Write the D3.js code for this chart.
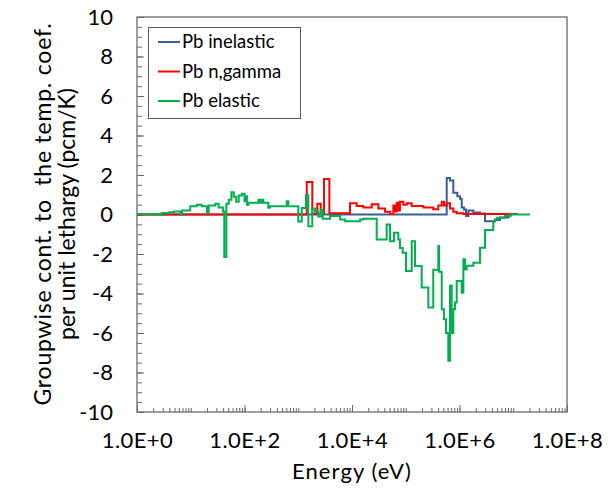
<!DOCTYPE html>
<html>
<head>
<meta charset="utf-8">
<script src="https://cdn.jsdelivr.net/npm/d3@7/dist/d3.min.js"></script>
<style>
  html, body { margin: 0; padding: 0; background: #fff; }
  svg { display: block; }
  text { font-family: Lato, "Open Sans", sans-serif; fill: #000; }
</style>
</head>
<body>
<svg id="chart" width="612" height="490"></svg>
<script>
// Group-wise contributions to the temperature coefficient (pcm/K per unit lethargy).
// Each series: lower group-boundary energies (eV), values, and the upper edge of the last group.
const inelasticE = [1, 5.78e5, 6.66e5, 7.67e5, 9.1e5, 1.02e6, 1.10e6, 1.21e6, 1.32e6, 1.46e6, 1.81e6, 2.41e6, 2.98e6, 4.57e6, 5.66e6, 8.09e6];
const inelasticV = [0, 1.85, 1.72, 1.1, 0.92, 0.8, 0.35, 0.25, -0.07, 0.2, 0.1, 0.05, -0.34, -0.28, -0.15, -0.05];
const inelasticEnd = 9.5e6;

const ngammaE = [1, 1440, 1825, 2260, 2620, 3010, 3790, 9180, 12200, 16200, 23300, 30900, 41100, 51000, 58700, 64000, 67900, 74000, 78000, 90000, 104000, 129000, 212000, 325000, 403000, 467000, 515000, 578000, 666000, 767000, 887000, 1.18e6];
const ngammaV = [0, 1.65, 0.03, 0.55, 0.03, 1.8, 0.06, 0.57, 0.43, 0.36, 0.52, 0.3, 0.14, 0.03, 0.45, 0.15, 0.6, 0.2, 0.65, 0.5, 0.57, 0.43, 0.36, 0.26, 0.45, 0.65, 0.45, 0.57, 0.31, 0.14, 0.06, 0.02];
const ngammaEnd = 1.22e7;

const elasticE = [1, 2.5, 2.9, 3.9, 4.9, 6.4, 6.9, 9.8, 13, 16, 20, 21.6, 28.6, 33, 40, 42, 46, 51, 57, 63, 70, 78, 90, 100, 106, 111, 118, 181, 194, 209, 224, 277, 298, 610, 653, 1000, 1160, 1390, 1540, 1825, 2050, 2360, 2620, 2850, 3900, 6000, 7400, 14100, 16200, 28800, 44200, 51000, 60400, 72600, 78000, 87700, 101000, 129000, 149000, 198000, 263000, 325000, 403000, 416000, 467000, 515000, 561000, 619000, 666000, 716000, 767000, 824000, 887000, 1.10e6, 1.18e6, 1.27e6, 1.36e6, 1.81e6, 2.41e6, 2.98e6, 4.25e6, 4.57e6, 5.0e6, 7.0e6, 8.7e6];
const elasticV = [0.03, -0.03, 0.07, 0.12, 0.15, -0.03, 0.2, 0.42, 0.5, 0.42, 0.1, 0.45, 0.55, 0.35, 0.15, -2.15, 0.55, 0.75, 1.13, 0.9, 0.65, 0.96, 1.05, 0.67, 0.92, 0.5, 0.6, 0.75, 0.6, 0.75, 0.6, 0.34, 0.42, 0.67, 0.42, -0.35, 0.33, 0.98, -0.6, 0.3, 0.14, -0.1, 0.25, -0.22, -0.08, -0.25, -0.34, -0.25, -0.22, -1.26, -0.5, -1.35, -0.93, -1.26, -1.7, -1.94, -2.86, -1.35, -2.61, -3.7, -4.71, -2.8, -1.6, -2.9, -4.8, -5.3, -6.0, -7.4, -3.6, -6.0, -4.8, -4.45, -3.37, -3.96, -2.27, -2.78, -2.6, -2.44, -1.68, -0.79, -0.34, -0.25, -0.17, -0.08, 0.0];
const elasticEnd = 2.05e7;

const seriesNames = ["Pb inelastic", "Pb n,gamma", "Pb elastic"];
const seriesColors = ["#3A5DA0", "#FF0000", "#00B050"];

const xTickValues = [1, 1e2, 1e4, 1e6, 1e8];
const xTickLabels = ["1.0E+0", "1.0E+2", "1.0E+4", "1.0E+6", "1.0E+8"];
const yTickValues = [10, 8, 6, 4, 2, 0, -2, -4, -6, -8, -10];

const yTitleLines = ["Groupwise cont. to  the temp. coef.", "per unit lethargy (pcm/K)"];
const xTitle = "Energy (eV)";

// ---- layout ----
const svg = d3.select("#chart");
const plot = { left: 137, right: 567, top: 17, bottom: 412 };
const axisColor = "#6a6a6a";
const labelSize = "22px";

const x = d3.scaleLog().domain([1, 1e8]).range([plot.left, plot.right]);
const y = d3.scaleLinear().domain([-10, 10]).range([plot.bottom, plot.top]);

// plot frame
svg.append("rect")
  .attr("x", plot.left).attr("y", plot.top)
  .attr("width", plot.right - plot.left).attr("height", plot.bottom - plot.top)
  .attr("fill", "none").attr("stroke", axisColor).attr("stroke-width", 1.3);

// x ticks (inside): decades and 2..9 minor ticks
const xMinor = [];
for (let d = 0; d < 8; d++) {
  for (let m = 1; m <= 9; m++) xMinor.push(m * Math.pow(10, d));
}
svg.append("g").attr("transform", `translate(0,${plot.bottom})`)
  .call(d3.axisTop(x).tickValues(xMinor).tickSize(4).tickFormat(""))
  .call(g => g.select(".domain").remove())
  .call(g => g.selectAll("line").attr("stroke", axisColor));
svg.append("g").attr("transform", `translate(0,${plot.bottom})`)
  .call(d3.axisTop(x).tickValues(xTickValues).tickSize(7).tickFormat(""))
  .call(g => g.select(".domain").remove())
  .call(g => g.selectAll("line").attr("stroke", axisColor));

// x tick labels
svg.append("g").attr("transform", `translate(0,${plot.bottom})`)
  .call(d3.axisBottom(x).tickValues(xTickValues).tickSize(0).tickPadding(0)
    .tickFormat((d, i) => xTickLabels[i]))
  .call(g => g.select(".domain").remove())
  .call(g => g.selectAll("text")
    .attr("y", 36).attr("dy", null)
    .style("font-family", "Lato, sans-serif").style("font-size", labelSize)
    .style("letter-spacing", "0.4px").attr("fill", "#000"));

// y ticks (inside)
const yMinor = d3.range(-10, 10.01, 0.5);
svg.append("g").attr("transform", `translate(${plot.left},0)`)
  .call(d3.axisRight(y).tickValues(yMinor).tickSize(5).tickFormat(""))
  .call(g => g.select(".domain").remove())
  .call(g => g.selectAll("line").attr("stroke", axisColor));
svg.append("g").attr("transform", `translate(${plot.left},0)`)
  .call(d3.axisRight(y).tickValues(yTickValues).tickSize(7).tickFormat(""))
  .call(g => g.select(".domain").remove())
  .call(g => g.selectAll("line").attr("stroke", axisColor));

// y tick labels (plain hyphen for negatives)
svg.append("g").attr("transform", `translate(${plot.left},0)`)
  .call(d3.axisLeft(y).tickValues(yTickValues).tickSize(0).tickPadding(24).tickFormat(d => String(d)))
  .call(g => g.select(".domain").remove())
  .call(g => g.selectAll("text")
    .style("font-family", "Lato, sans-serif").style("font-size", labelSize).attr("fill", "#000"));

// axis titles
svg.append("text")
  .attr("x", 352).attr("y", 479)
  .attr("text-anchor", "middle").style("font-size", labelSize)
  .style("letter-spacing", "1.1px")
  .text(xTitle);

const yTitle = svg.append("text")
  .attr("transform", `translate(51,214) rotate(-90)`)
  .attr("text-anchor", "middle").style("font-size", "23px")
  .style("white-space", "pre");
yTitleLines.forEach((t, i) => {
  yTitle.append("tspan").attr("x", 0).attr("y", i * 24)
    .style("letter-spacing", i === 0 ? "0.8px" : "0px")
    .text(t);
});

// ---- series ----
function stepPoints(E, V, end) {
  const pts = E.map((e, i) => [e, V[i]]);
  pts.push([end, V[V.length - 1]]);
  return pts;
}
const series = [
  stepPoints(inelasticE, inelasticV, inelasticEnd),
  stepPoints(ngammaE, ngammaV, ngammaEnd),
  stepPoints(elasticE, elasticV, elasticEnd)
];

const line = d3.line()
  .x(d => x(d[0]))
  .y(d => y(d[1]))
  .curve(d3.curveStepAfter);

svg.append("clipPath").attr("id", "plotclip")
  .append("rect").attr("x", plot.left).attr("y", plot.top)
  .attr("width", plot.right - plot.left).attr("height", plot.bottom - plot.top);

svg.append("g").attr("clip-path", "url(#plotclip)")
  .selectAll("path").data(series).join("path")
  .attr("d", line)
  .attr("fill", "none")
  .attr("stroke", (d, i) => seriesColors[i])
  .attr("stroke-width", 2)
  .attr("stroke-linejoin", "miter");

// ---- legend ----
const legend = svg.append("g");
legend.append("rect")
  .attr("x", 148.5).attr("y", 27.5).attr("width", 152).attr("height", 91)
  .attr("fill", "#fff").attr("stroke", "#5a5a5a").attr("stroke-width", 1);
seriesNames.forEach((name, i) => {
  const cy = 42 + i * 29.5;
  legend.append("line")
    .attr("x1", 158).attr("x2", 180).attr("y1", cy).attr("y2", cy)
    .attr("stroke", seriesColors[i]).attr("stroke-width", 2);
  legend.append("text")
    .attr("x", 182).attr("y", cy + 6)
    .style("font-size", "18.5px")
    .text(name);
});
</script>
</body>
</html>
